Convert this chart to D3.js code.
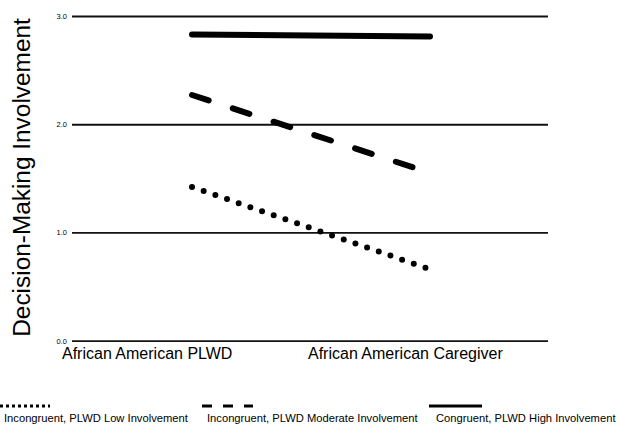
<!DOCTYPE html>
<html>
<head>
<meta charset="utf-8">
<script src="https://cdn.jsdelivr.net/npm/d3@7/dist/d3.min.js"></script>
<style>
  html, body { margin: 0; padding: 0; background: #fff; }
  svg { display: block; }
  text { font-family: "Liberation Sans", Arial, sans-serif; fill: #000; }
</style>
</head>
<body>
<svg id="chart" width="619" height="424"></svg>
<script>
const categories = ["African American PLWD", "African American Caregiver"];
const yTicks = [0, 1, 2, 3];
const seriesNames = [
  "Incongruent, PLWD Low Involvement",
  "Incongruent, PLWD Moderate Involvement",
  "Congruent, PLWD High Involvement"
];
const lowValues = [1.42, 0.66];
const moderateValues = [2.27, 1.55];
const highValues = [2.83, 2.81];
const yLabel = "Decision-Making Involvement";

const svg = d3.select("#chart");

const x = d3.scalePoint().domain(categories).range([192, 430]);
const y = d3.scaleLinear().domain([0, 3]).range([340.7, 16]);

// gridlines + tick labels
const yAxis = d3.axisLeft(y)
  .tickValues(yTicks)
  .tickFormat(d3.format(".1f"))
  .tickSize(-(548 - 72))
  .tickPadding(5);
const gA = svg.append("g").attr("transform", "translate(72,0)").call(yAxis);
gA.select(".domain").remove();
gA.selectAll(".tick line").attr("stroke", "#111").attr("stroke-width", 1.8);
gA.selectAll(".tick text")
  .style("font-family", "'Liberation Sans', Arial, sans-serif")
  .style("font-size", "7.5px")
  .style("fill", "#000")
  .attr("fill", "#000");

// category labels
const catLabelX = [62, 308];
svg.selectAll("text.cat").data(categories).join("text")
  .attr("class", "cat")
  .attr("x", (d, i) => catLabelX[i])
  .attr("y", 359)
  .style("font-size", "16px")
  .text(d => d);

// y label
svg.append("text")
  .attr("transform", "translate(30,177.5) rotate(-90)")
  .attr("text-anchor", "middle")
  .style("font-size", "24.4px")
  .text(yLabel);

const line = d3.line().x(d => x(d.cat)).y(d => y(d.v));
const toPts = vals => categories.map((c, i) => ({cat: c, v: vals[i]}));

const styles = [
  {vals: lowValues, dash: "0,12.35", cap: "round"},
  {vals: moderateValues, dash: "17.5,25.4", cap: "round"},
  {vals: highValues, dash: null, cap: "round"}
];
styles.forEach(s => {
  svg.append("path")
    .attr("d", line(toPts(s.vals)))
    .attr("fill", "none")
    .attr("stroke", "#000")
    .attr("stroke-width", 6)
    .attr("stroke-linecap", s.cap)
    .attr("stroke-dasharray", s.dash);
});

// legend
const legend = [
  {x1: 0, x2: 50, tx: 4, dash: "3,3"},
  {x1: 202, x2: 253, tx: 207, dash: "10,11"},
  {x1: 429, x2: 482, tx: 436, dash: null}
];
legend.forEach((l, i) => {
  svg.append("line")
    .attr("x1", l.x1).attr("x2", l.x2)
    .attr("y1", 406).attr("y2", 406)
    .attr("stroke", "#000").attr("stroke-width", 3)
    .attr("stroke-dasharray", l.dash);
  svg.append("text")
    .attr("x", l.tx).attr("y", 422)
    .style("font-size", "11.2px")
    .text(seriesNames[i]);
});
</script>
</body>
</html>
